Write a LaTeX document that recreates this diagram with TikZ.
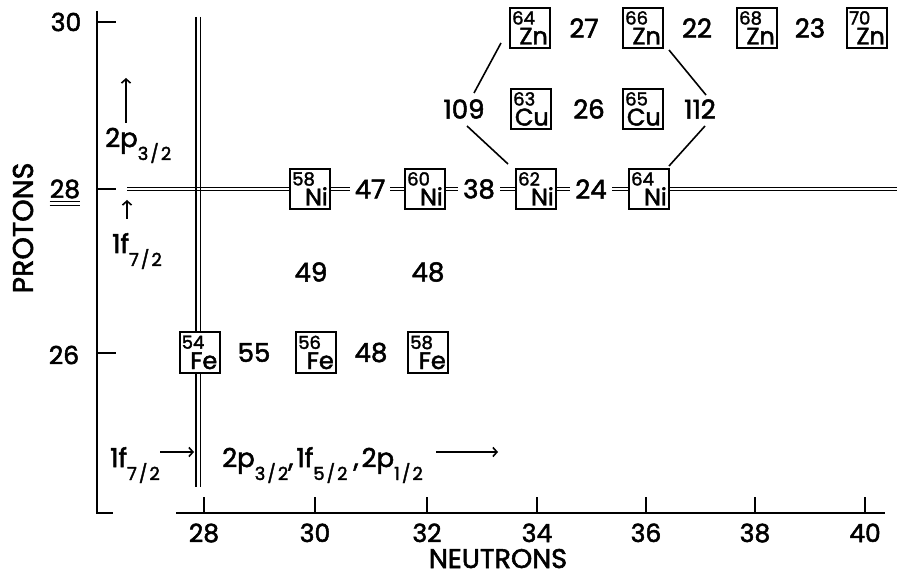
\documentclass[tikz,border=0pt]{standalone}
\usepackage{fontspec}
\setmainfont{Poppins}[FakeBold=2]
\usetikzlibrary{calc,arrows.meta}
\newcommand\fsz[1]{\fontsize{#1}{#1}\selectfont}
\newcommand\sbs[1]{\raisebox{-13pt}{\fsz{18}#1}}
\newcommand\frc[2]{#1\kern2pt/\kern2pt#2}
\newcommand\isobox[5]{%
  \node[iso] (#1) at (#2,#3) {};
  \node[mass] (#1m) at ($(#1.north west)+(3pt,-4pt)$) {#4};
  \node[sym] (#1s) at ($(#1.south east)+(-3pt,4.5pt)$) {#5};
}
\begin{document}
\begin{tikzpicture}[x=1pt,y=-1pt,
  every node/.style={inner sep=0pt},
  num/.style={font=\fsz{26}, fill=white, inner xsep=5pt, inner ysep=3pt},
  iso/.style={draw, line width=2pt, fill=white, minimum width=40pt, minimum height=40pt},
  mass/.style={font=\fsz{18}, anchor=north west},
  sym/.style={font=\fsz{24}, anchor=base east},
  axis/.style={line width=2pt},
  dbl/.style={line width=1.2pt},
  conn/.style={line width=1.6pt},
  arr/.style={line width=1.6pt, -{Straight Barb[length=4pt,width=9pt]}},
  lab/.style={font=\fsz{26}, anchor=base west},
  tlab/.style={font=\fsz{25}},
]
\useasboundingbox (0,0) rectangle (897,577);

% double shell lines
\coordinate (hL) at (127,189);
\coordinate (hR) at (897,189);
\coordinate (vT) at (198,17);
\coordinate (vB) at (198,487);
\draw[dbl] ([yshift=1.7pt]hL) -- ([yshift=1.7pt]hR);
\draw[dbl] ([yshift=-1.7pt]hL) -- ([yshift=-1.7pt]hR);
\draw[dbl] ([xshift=-2.1pt]vT) -- ([xshift=-2.1pt]vB);
\draw[dbl] ([xshift=2.1pt]vT) -- ([xshift=2.1pt]vB);

% axes
\coordinate (yTop) at (97,11);
\coordinate (orig) at (97,513);
\coordinate (yFoot) at (113,513);
\coordinate (xStart) at (176,513);
\coordinate (xEnd) at (885,513);
\draw[axis] (yTop) -- (orig) -- (yFoot);
\draw[axis] (xStart) -- (xEnd);
\foreach \yy/\nm in {22/t30,189/t28,353/t26}{
  \coordinate (\nm a) at (97,\yy);
  \coordinate (\nm b) at (116,\yy);
  \draw[axis] (\nm a) -- (\nm b);
}
\foreach \xx/\lb in {204/28,315/30,427/32,537/34,646/36,755/38,865/40}{
  \coordinate (x\lb a) at (\xx,513);
  \coordinate (x\lb b) at (\xx,497);
  \draw[axis] (x\lb a) -- (x\lb b);
  \node[tlab, anchor=base] (xl\lb) at (\xx,542) {\lb};
}
\node[tlab] (yl30) at (66,22) {30};
\node[tlab] (yl28) at (65,189) {28};
\node[tlab] (yl26) at (64,355) {26};
\draw[line width=1.2pt] ($(yl28.south west)+(0,-3pt)$) -- ($(yl28.south east)+(0,-3pt)$);
\draw[line width=1.2pt] ($(yl28.south west)+(0,-7pt)$) -- ($(yl28.south east)+(0,-7pt)$);
\node[font=\fsz{28.5}, rotate=90] (prot) at (23,228) {PROTONS};
\node[font=\fsz{27}, anchor=base] (neut) at (498,568) {NEUTRONS};

% shell labels
\node[lab] (p32) at (105,147) {2p\sbs{\frc{3}{2}}};
\coordinate (a1s) at (126,123);
\coordinate (a1e) at (126,78);
\draw[arr] (a1s) -- (a1e);
\node[lab] (f72a) at (112,253) {1f\sbs{\frc{7}{2}}};
\coordinate (a2s) at (127,219);
\coordinate (a2e) at (127,200);
\draw[arr] (a2s) -- (a2e);
\node[lab] (f72b) at (110,467) {1f\sbs{\frc{7}{2}}};
\coordinate (a3s) at (160,452);
\coordinate (a3e) at (194,452);
\draw[arr] (a3s) -- (a3e);
\node[lab] (run) at (222,467) {2p\sbs{\frc{3}{2}},\kern3pt1f\sbs{\frc{5}{2}}\kern6pt,\kern3pt2p\sbs{\frc{1}{2}}};
\coordinate (a4s) at (436,452);
\coordinate (a4e) at (498,452);
\draw[arr] (a4s) -- (a4e);

% Ni row
\isobox{ni58}{310}{189}{58}{Ni}
\node[num] (n47) at (370,189) {47};
\isobox{ni60}{425}{189}{60}{Ni}
\node[num] (n38) at (479,189) {38};
\isobox{ni62}{536}{189}{62}{Ni}
\node[num] (n24) at (591,189) {24};
\isobox{ni64}{649}{189}{64}{Ni}

% row 27
\node[num] (n49) at (311,272) {49};
\node[num] (n48a) at (428,272) {48};

% Fe row
\isobox{fe54}{199.5}{352.5}{54}{Fe}
\node[num] (n55) at (254,352.5) {55};
\isobox{fe56}{316}{352.5}{56}{Fe}
\node[num] (n48b) at (371,352.5) {48};
\isobox{fe58}{428}{352.5}{58}{Fe}

% Cu row
\node[num] (n109) at (464,109) {109};
\isobox{cu63}{531}{109}{63}{Cu}
\node[num] (n26) at (589,109) {26};
\isobox{cu65}{643}{109}{65}{Cu}
\node[num] (n112) at (700,109) {112};

% Zn row
\isobox{zn64}{530}{28}{64}{Zn}
\node[num] (n27) at (584,28) {27};
\isobox{zn66}{643}{28}{66}{Zn}
\node[num] (n22) at (697,28) {22};
\isobox{zn68}{757}{28}{68}{Zn}
\node[num] (n23) at (810,28) {23};
\isobox{zn70}{867}{28}{70}{Zn}

% connectors
\draw[conn] ($(zn64.south west)+(-8pt,6pt)$) -- ($(n109.center)+(10pt,16pt)$);
\draw[conn] ($(n109.center)+(3pt,-17pt)$) -- ($(ni62.north west)+(-7pt,4pt)$);
\draw[conn] ($(zn66.south east)+(5pt,-1pt)$) -- ($(n112.center)+(6pt,14pt)$);
\draw[conn] ($(n112.center)+(5pt,-17pt)$) -- ($(ni64.north east)+(-1pt,2pt)$);
\end{tikzpicture}
\end{document}
